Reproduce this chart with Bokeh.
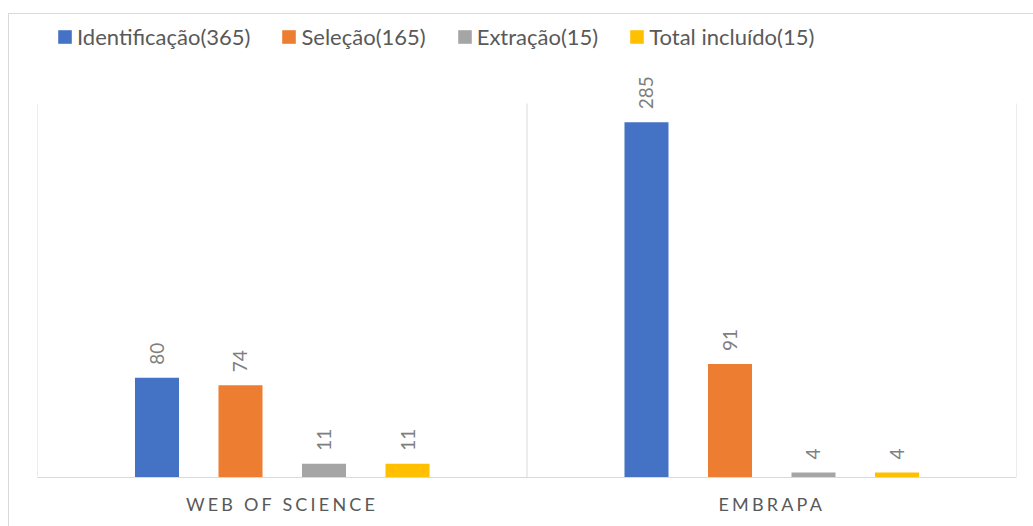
import math
from bokeh.plotting import figure
from bokeh.layouts import column
from bokeh.models import (ColumnDataSource, FactorRange, Range1d, LabelSet,
                          Legend, LegendItem, Span)
from bokeh.core.properties import value
from bokeh.transform import dodge
from bokeh.embed import file_html
from bokeh.resources import INLINE

categories = ["WEB OF SCIENCE", "EMBRAPA"]
series_names = ["Identificação(365)", "Seleção(165)", "Extração(15)", "Total incluído(15)"]
identificacao = [80, 285]
selecao = [74, 91]
extracao = [11, 4]
total_incluido = [11, 4]
colors = ["#4472C4", "#ED7D31", "#A5A5A5", "#FFC000"]
y_axis_max = 300

cols = ["identificacao", "selecao", "extracao", "total_incluido"]
values = [identificacao, selecao, extracao, total_incluido]
data = dict(cats=categories)
for c, v in zip(cols, values):
    data[c] = v
    data[c + "_lbl"] = [str(x) for x in v]
source = ColumnDataSource(data)

FONT = "Lato"
LETTER_SPACING = 3.2

# page layout in pixels: chart area starts at (9, 14) inside a 1px border
frame_top, baseline, axis_top, frame_bottom = 20, 477, 103, 480
ppu = (baseline - axis_top) / y_axis_max
y_end = (baseline - frame_top) / ppu
y_start = -(frame_bottom - baseline) / ppu
x_range = FactorRange(factors=categories, range_padding=0)

p = figure(width=1024, height=frame_bottom - 14, output_backend="svg", toolbar_location=None,
           x_range=x_range, y_range=Range1d(y_start, y_end),
           min_border_left=28, min_border_right=17, min_border_top=frame_top - 14,
           min_border_bottom=0)
p.outline_line_color = None
p.xgrid.grid_line_color = None
p.ygrid.grid_line_color = None
p.yaxis.visible = False
p.xaxis.visible = False

# baseline (category axis line)
p.add_layout(Span(location=0, dimension="width", line_color="#D9D9D9", line_width=1))
# category separators (gridlines between categories)
p.segment(x0=[0, 1, 2], y0=[0, 0, 0], x1=[0, 1, 2], y1=[y_axis_max] * 3,
          line_color="#D9D9D9", line_width=1)

step = 0.1706
renderers = []
for i, c in enumerate(cols):
    off = (i - 1.5) * step
    r = p.vbar(x=dodge("cats", off, range=p.x_range), top=c, width=0.0899,
               source=source, fill_color=colors[i], line_color=None)
    renderers.append(r)
    lbl = LabelSet(x=dodge("cats", off, range=p.x_range), y=c, text=c + "_lbl",
                   source=source, angle=math.pi / 2, text_align="left",
                   text_baseline="middle", y_offset=13,
                   text_font=value(FONT), text_font_size="19px", text_color="#7F7F7F")
    p.add_layout(lbl)

legend = Legend(items=[LegendItem(label=n, renderers=[r]) for n, r in zip(series_names, renderers)],
                orientation="horizontal", location=(19, 430),
                glyph_width=17, glyph_height=17, label_standoff=4, spacing=30,
                padding=0, margin=0, border_line_color=None, background_fill_alpha=0,
                label_text_font=FONT, label_text_font_size="22px", label_text_color="#595959")
p.add_layout(legend, "center")

# category labels (letter-spaced) in a strip below the plot, sharing the x range
cat_source = ColumnDataSource(dict(
    cats=categories,
    xoff=[-len(c) * LETTER_SPACING / 2 for c in categories],
))
pa = figure(width=1024, height=526 - frame_bottom, output_backend="svg", toolbar_location=None,
            x_range=x_range, y_range=Range1d(0, 1),
            min_border_left=28, min_border_right=17, min_border_top=0, min_border_bottom=0)
pa.styles = {"letter-spacing": f"{LETTER_SPACING}px"}
pa.outline_line_color = None
pa.xgrid.grid_line_color = None
pa.ygrid.grid_line_color = None
pa.xaxis.visible = False
pa.yaxis.visible = False
pa.text(x="cats", y=0.5, text="cats", x_offset="xoff", source=cat_source,
        text_align="center", text_baseline="middle",
        text_font=value(FONT), text_font_size="18px", text_color="#595959")

layout = column(p, pa, spacing=0)
layout.styles = {"margin-left": "8px", "margin-top": "13px",
                 "border-left": "1px solid #D9D9D9", "border-top": "1px solid #D9D9D9"}

open("out.html", "w").write(file_html(layout, INLINE))
